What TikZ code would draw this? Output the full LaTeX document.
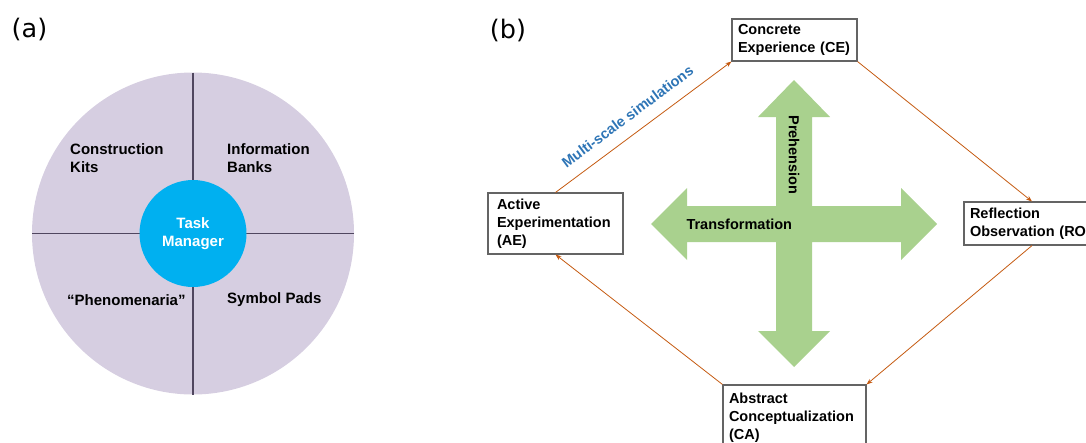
\documentclass[tikz,border=0pt]{standalone}
\usepackage{fontspec}
\setmainfont{Liberation Sans}
\newfontfamily\panelfont{DejaVu Sans}
\usetikzlibrary{positioning, arrows.meta}
\definecolor{wheelfill}{RGB}{214, 206, 225}
\definecolor{wheelline}{RGB}{80, 70, 95}
\definecolor{taskblue}{RGB}{0, 176, 240}
\definecolor{boxgray}{RGB}{100, 100, 100}
\definecolor{cycleorange}{RGB}{197, 90, 17}
\definecolor{crossgreen}{RGB}{169, 209, 142}
\definecolor{simblue}{RGB}{46, 117, 182}
\tikzset{
    panellabel/.style={font=\panelfont\fontsize{25.5}{30}\selectfont},
    quadtext/.style={anchor=west, align=left, inner sep=0pt, font=\fontsize{15}{18}\selectfont\bfseries},
    cyclebox/.style={draw=boxgray, line width=1.1pt, fill=white, align=left, inner xsep=6pt, inner ysep=0pt, font=\fontsize{14.5}{18}\selectfont\bfseries},
    cyclearrow/.style={draw=cycleorange, line width=0.8pt, -{Stealth[length=6pt, width=4.5pt]}},
    simlabel/.style={pos=0.47, sloped, above=9pt, text=simblue, font=\fontsize{14.5}{18}\selectfont\bfseries},
    crosslabel/.style={font=\fontsize{14.5}{18}\selectfont\bfseries}
}

\begin{document}
\begin{tikzpicture}[x=1pt, y=1pt]
    \useasboundingbox (0,0) rectangle (1086,-442);
    \clip (0,0) rectangle (1086,-442);

    % (a) the wheel
    \node[panellabel] (la) at (29.5,-30) {(a)};
    \node[circle, fill=wheelfill, minimum size=322pt, inner sep=0pt, outer sep=0pt] (wheel) at (193,-233.5) {};
    \draw[wheelline, line width=1.2pt] (wheel.north) -- (wheel.south);
    \draw[wheelline, line width=1.2pt] (wheel.west) -- (wheel.east);
    \node[circle, fill=taskblue, minimum size=107pt, inner sep=0pt, text=white, align=center,
          font=\fontsize{15}{18}\selectfont\bfseries] (task) at (193,-233.5) {Task\\Manager};
    \node[quadtext] (kits)  at (70,-158)  {Construction\\Kits};
    \node[quadtext] (banks) at (227,-158) {Information\\Banks};
    \node[quadtext] (phen)  at (67,-300)  {“Phenomenaria”};
    \node[quadtext] (pads)  at (227,-300) {Symbol Pads};

    % (b) the learning cycle
    \node[panellabel] (lb) at (508,-30) {(b)};
    \fill[crossgreen] (794,-80) -- (830,-117) -- (812,-117) -- (812,-206) -- (901,-206)
        -- (901,-188) -- (937,-224) -- (901,-260) -- (901,-242) -- (812,-242) -- (812,-331)
        -- (830,-331) -- (794,-367) -- (758,-331) -- (776,-331) -- (776,-242) -- (687,-242)
        -- (687,-260) -- (651,-224) -- (687,-188) -- (687,-206) -- (776,-206) -- (776,-117)
        -- (758,-117) -- cycle;
    \node[crosslabel, anchor=west] (transf) at (683,-224) {Transformation};
    \node[crosslabel, rotate=-90] (preh) at (794,-155) {Prehension};

    \node[cyclebox, text width=113pt, minimum height=42pt] (CE) at (794.5,-40) {Concrete\\Experience (CE)};
    \node[cyclebox, text width=124pt, minimum height=43pt] (RO) at (1032,-223.5) {Reflection\\Observation (RO)};
    \node[cyclebox, text width=131pt, minimum height=66pt] (CA) at (794.5,-418) {Abstract\\Conceptualization\\(CA)};
    \node[cyclebox, text width=117pt, inner xsep=9pt, minimum height=61pt] (AE) at (555.5,-223.5) {Active\\Experimentation\\(AE)};

    \draw[cyclearrow] (AE.north) -- node[simlabel] {Multi-scale simulations} (CE.south west);
    \draw[cyclearrow] (CE.south east) -- (RO.north);
    \draw[cyclearrow] (RO.south) -- (CA.north east);
    \draw[cyclearrow] (CA.north west) -- (AE.south);
\end{tikzpicture}
\end{document}
